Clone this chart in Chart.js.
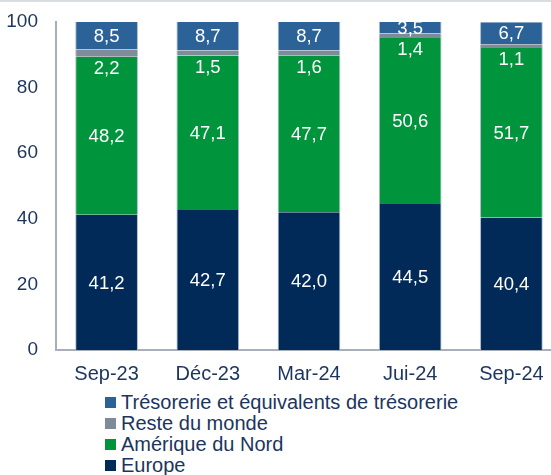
<!DOCTYPE html>
<html>
<head>
<meta charset="utf-8">
<script src="https://cdn.jsdelivr.net/npm/chart.js@4"></script>
<style>
  html, body { margin: 0; padding: 0; background: #fff; overflow: hidden; }
  body { width: 551px; height: 475px; border-top: 2px solid #d9dce1; box-sizing: border-box; }
  #wrap { width: 562px; height: 388px; position: relative; }
  #legend { margin: 2px 0 0 105px; font: 20px "Liberation Sans", Arial, sans-serif; color: #1b355e; }
  #legend div { height: 21px; line-height: 21px; display: flex; align-items: center; white-space: nowrap; }
  #legend span.box { width: 11px; height: 11px; margin-right: 5px; display: inline-block; }
</style>
</head>
<body>
<div id="wrap"><canvas id="c"></canvas></div>
<div id="legend"></div>
<script>
const categories = ['Sep-23', 'Déc-23', 'Mar-24', 'Jui-24', 'Sep-24'];
const europe     = [41.2, 42.7, 42.0, 44.5, 40.4];
const amNord     = [48.2, 47.1, 47.7, 50.6, 51.7];
const resteMonde = [2.2, 1.5, 1.6, 1.4, 1.1];
const tresorerie = [8.5, 8.7, 8.7, 3.5, 6.7];
const yTicks     = [0, 20, 40, 60, 80, 100];

const TEXT = '#1b355e';
const FONT = '"Liberation Sans", Arial, sans-serif';
const fmt = v => v.toFixed(1).replace('.', ',');

const series = [
  { label: 'Europe', data: europe, color: '#012a58' },
  { label: 'Amérique du Nord', data: amNord, color: '#00943d' },
  { label: 'Reste du monde', data: resteMonde, color: '#7e8b98' },
  { label: 'Trésorerie et équivalents de trésorerie', data: tresorerie, color: '#2b6298' },
];

// values written inside the segments; "Reste du monde" sits just under its thin band
const barLabels = {
  id: 'barLabels',
  afterDatasetsDraw(chart) {
    const ctx = chart.ctx;
    ctx.save();
    ctx.fillStyle = '#fff';
    ctx.font = '18.5px ' + FONT;
    ctx.textAlign = 'center';
    ctx.textBaseline = 'middle';
    chart.data.datasets.forEach((ds, i) => {
      chart.getDatasetMeta(i).data.forEach((bar, j) => {
        const y = i === 2 ? bar.base + 11 : (bar.y + bar.base) / 2;
        ctx.fillText(fmt(ds.data[j]), bar.x, y + 1);
      });
    });
    ctx.restore();
  }
};

const chart = new Chart(document.getElementById('c'), {
  type: 'bar',
  data: {
    labels: categories,
    datasets: series.map(s => ({
      label: s.label,
      data: s.data,
      backgroundColor: s.color,
      borderColor: '#aebccb',
      borderWidth: { left: 1, right: 1, top: 0, bottom: 0 },
      barPercentage: 0.62,
      categoryPercentage: 1,
    })),
  },
  options: {
    responsive: true,
    maintainAspectRatio: false,
    animation: false,
    layout: { padding: { top: 20, left: 0, right: 0, bottom: 0 } },
    plugins: { legend: { display: false }, tooltip: { enabled: false } },
    scales: {
      x: {
        stacked: true,
        grid: { display: false, drawTicks: false },
        border: { color: '#a7b0ba', width: 2 },
        ticks: { color: TEXT, font: { size: 20, family: FONT }, padding: 12 },
        afterFit: s => { s.height = 40; s.paddingLeft = 0; s.paddingRight = 0; },
      },
      y: {
        stacked: true,
        min: 0, max: 100,
        afterBuildTicks: s => { s.ticks = yTicks.map(v => ({ value: v })); },
        grid: { display: false, drawTicks: false },
        border: { color: '#a7b0ba', width: 2 },
        ticks: { color: TEXT, font: { size: 19, family: FONT }, padding: 18 },
        afterFit: s => { s.width = 56; s.paddingTop = 0; s.paddingBottom = 0; },
      },
    },
  },
  plugins: [barLabels],
});

const legend = document.getElementById('legend');
[...series].reverse().forEach(s => {
  const row = document.createElement('div');
  row.innerHTML = '<span class="box" style="background:' + s.color + '"></span>' + s.label;
  legend.appendChild(row);
});
</script>
</body>
</html>
